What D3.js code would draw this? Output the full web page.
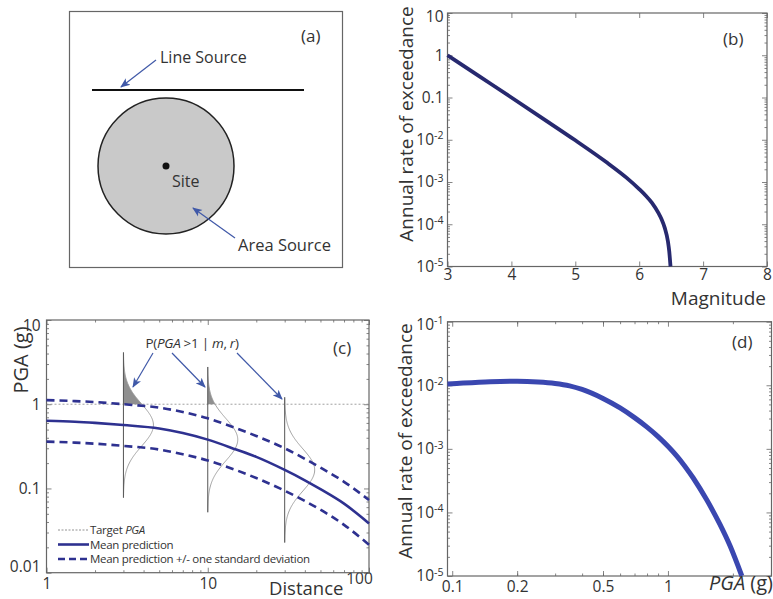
<!DOCTYPE html>
<html>
<head>
<meta charset="utf-8">
<script src="https://cdn.jsdelivr.net/npm/d3@7"></script>
<style>
body { margin: 0; background: #fff; }
text { font-family: "Open Sans", "Noto Sans", sans-serif; fill: #333; }
</style>
</head>
<body>
<svg id="fig" width="773" height="599"></svg>
<script>
// (b) magnitude recurrence
var magnitudes = [3, 3.5, 4, 4.5, 5, 5.5, 5.8, 6, 6.1, 6.2, 6.3, 6.35, 6.4, 6.45, 6.47, 6.49];
var magRates = [1.0, 0.316, 0.1, 0.0313, 0.0097, 0.00285, 0.00127, 0.00068, 0.00048, 0.00032, 0.000185, 0.000131, 0.000082, 0.000039, 0.000023, 0.00001];
var bXTicks = [3, 4, 5, 6, 7, 8];
var bYTicks = [10, 1, 0.1, 1e-2, 1e-3, 1e-4, 1e-5];
var bYLabels = ["10", "1", "0.1", "10^-2", "10^-3", "10^-4", "10^-5"];

// (c) ground motion prediction vs distance
var distKm = [1, 1.5, 2, 3, 5, 7, 10, 15, 20, 30, 40, 50, 70, 100];
var pgaMean = [0.637, 0.62, 0.60, 0.566, 0.515, 0.455, 0.38, 0.29, 0.237, 0.166, 0.125, 0.098, 0.066, 0.0385];
var pgaPlus = [1.12, 1.09, 1.06, 1.0, 0.91, 0.81, 0.68, 0.52, 0.42, 0.30, 0.225, 0.177, 0.12, 0.073];
var pgaMinus = [0.36, 0.35, 0.34, 0.32, 0.29, 0.255, 0.215, 0.165, 0.133, 0.094, 0.071, 0.056, 0.037, 0.0215];
var targetPGA = 1;
var pdfDistances = [3, 10, 30];
var sigmaLog10 = 0.25;
var cXTicks = [1, 10, 100];
var cYTicks = [10, 1, 0.1, 0.01];
var cYLabels = ["10", "1", "0.1", "0.01"];

// (d) hazard curve
var pgaLevels = [0.0951, 0.1, 0.15, 0.2, 0.25, 0.3, 0.35, 0.4, 0.5, 0.6, 0.7, 0.8, 0.9, 1.0, 1.1, 1.2, 1.31, 1.51, 1.74, 1.94, 2.2];
var hazardRate = [0.0105, 0.0106, 0.0114, 0.0116, 0.0113, 0.0107, 0.0098, 0.0086, 0.0062, 0.0044, 0.0031, 0.0022, 0.00156, 0.0011, 0.00077, 0.00053, 0.000348, 0.000159, 0.0000652, 0.0000298, 0.00001];
var dXTicks = [0.1, 0.2, 0.5, 1];
var dXLabels = ["0.1", "0.2", "0.5", "1"];
var dYTicks = [0.1, 1e-2, 1e-3, 1e-4, 1e-5];
var dYLabels = ["10^-1", "10^-2", "10^-3", "10^-4", "10^-5"];

var svg = d3.select("#fig");
var navy = "#27296f", blue = "#2e3190", bright = "#3a47b0", arrowBlue = "#4059a8", frameCol = "#666";

svg.append("defs").append("marker")
    .attr("id", "head")
    .attr("viewBox", "0 0 10 10")
    .attr("refX", 9).attr("refY", 5)
    .attr("markerWidth", 10).attr("markerHeight", 10)
    .attr("markerUnits", "userSpaceOnUse")
    .attr("orient", "auto")
  .append("path")
    .attr("d", "M0,1L10,5L0,9L2.5,5Z")
    .attr("fill", arrowBlue);

function arrow(g, x1, y1, x2, y2) {
  g.append("line")
      .attr("x1", x1).attr("y1", y1).attr("x2", x2).attr("y2", y2)
      .attr("stroke", arrowBlue).attr("stroke-width", 1.2)
      .attr("marker-end", "url(#head)");
}

// labels like "10^-3" become 10 with a superscript
function supText(t, s) {
  t.text(null);
  var parts = s.split("^");
  t.append("tspan").text(parts[0]);
  if (parts[1]) t.append("tspan").attr("dy", "-0.55em").attr("font-size", "0.68em").text(parts[1]);
}

function logMinor(domain) {
  var out = [];
  for (var e = -6; e <= 3; e++) {
    for (var k = 2; k <= 9; k++) {
      var v = k * Math.pow(10, e);
      if (v > domain[0] && v < domain[1]) out.push(v);
    }
  }
  return out;
}

function axes(g, x, y, o) {
  var L = x.range()[0], R = x.range()[1], B = y.range()[0], T = y.range()[1];
  function ax(a, tx, ty, vals, size, pad) {
    var s = g.append("g")
        .attr("transform", "translate(" + tx + "," + ty + ")")
        .call(a.tickValues(vals).tickSize(size).tickPadding(pad || 7).tickFormat(() => ""));
    s.select(".domain").remove();
    s.selectAll(".tick line").attr("stroke", frameCol).attr("stroke-width", 0.8);
    return s;
  }
  if (o.xMinor) {
    ax(d3.axisBottom(x), 0, B, o.xMinor, -2.5);
    ax(d3.axisTop(x), 0, T, o.xMinor, -2.5);
  }
  if (o.yMinor) {
    ax(d3.axisLeft(y), L, 0, o.yMinor, -2.5);
    ax(d3.axisRight(y), R, 0, o.yMinor, -2.5);
  }
  ax(d3.axisTop(x), 0, T, o.xTicks, -5);
  ax(d3.axisRight(y), R, 0, o.yTicks, -5);
  var xb = ax(d3.axisBottom(x), 0, B, o.xTicks, -5, o.xPad || 5);
  var yl = ax(d3.axisLeft(y), L, 0, o.yTicks, -5, o.yPad || 6);
  xb.selectAll(".tick text").each(function(d, i) {
    supText(d3.select(this), o.xLabels[i]);
  }).attr("font-size", 15.5).attr("fill", "#333").attr("font-family", null);
  yl.selectAll(".tick text").each(function(d, i) {
    supText(d3.select(this), o.yLabels[i]);
  }).attr("font-size", 15.5).attr("fill", "#333").attr("font-family", null);
  g.append("rect")
      .attr("x", L).attr("y", T).attr("width", R - L).attr("height", B - T)
      .attr("fill", "none").attr("stroke", frameCol).attr("stroke-width", 1.2);
  return { xb: xb, yl: yl };
}

// ---------------- (a) source sketch ----------------
var pa = svg.append("g");
pa.append("rect").attr("x", 69.5).attr("y", 11.5).attr("width", 273).attr("height", 256)
    .attr("fill", "none").attr("stroke", frameCol).attr("stroke-width", 1.2);
pa.append("line").attr("x1", 92).attr("y1", 90).attr("x2", 304).attr("y2", 90)
    .attr("stroke", "#111").attr("stroke-width", 2);
pa.append("circle").attr("cx", 166).attr("cy", 166).attr("r", 68)
    .attr("fill", "#c9c9c9").attr("stroke", "#222").attr("stroke-width", 1.5);
pa.append("circle").attr("cx", 166).attr("cy", 166).attr("r", 3.5).attr("fill", "#111");
pa.append("text").attr("x", 301).attr("y", 42).attr("font-size", 17).text("(a)");
pa.append("text").attr("x", 160).attr("y", 63).attr("font-size", 16).text("Line Source");
pa.append("text").attr("x", 172).attr("y", 187).attr("font-size", 16).text("Site");
pa.append("text").attr("x", 238).attr("y", 251).attr("font-size", 16.5).text("Area Source");
arrow(pa, 156, 60, 121, 87);
arrow(pa, 235, 238, 193, 208);

// ---------------- (b) magnitude recurrence ----------------
var bx = d3.scaleLinear().domain([3, 8]).range([447.5, 767]);
var by = d3.scaleLog().domain([1e-5, 10]).range([266.5, 13]);
var pb = svg.append("g");
var bAx = axes(pb, bx, by, {
  xTicks: bXTicks, xLabels: bXTicks.map(String), xPad: 2,
  yTicks: bYTicks, yLabels: bYLabels, yMinor: logMinor(by.domain()), yPad: 4
});
bAx.yl.select(".tick text").attr("dy", "0.55em");
pb.append("path")
    .datum(magnitudes.map((m, i) => [m, magRates[i]]))
    .attr("fill", "none").attr("stroke", navy).attr("stroke-width", 3.8)
    .attr("d", d3.line().x(d => bx(d[0])).y(d => by(d[1])).curve(d3.curveMonotoneX));
pb.append("text").attr("x", 723).attr("y", 45).attr("font-size", 17).text("(b)");
pb.append("text").attr("x", 766).attr("y", 305).attr("text-anchor", "end").attr("font-size", 19).text("Magnitude");
pb.append("text").attr("transform", "translate(406,124) rotate(-90)")
    .attr("text-anchor", "middle").attr("dy", "0.35em").attr("font-size", 19).text("Annual rate of exceedance");

// ---------------- (c) attenuation with distance ----------------
var cx = d3.scaleLog().domain([1, 100]).range([46.5, 369]);
var cy = d3.scaleLog().domain([0.01, 10]).range([572.7, 320]);
var pc = svg.append("g");
var cAx = axes(pc, cx, cy, {
  xTicks: cXTicks, xLabels: cXTicks.map(String), xMinor: logMinor(cx.domain()),
  yTicks: cYTicks, yLabels: cYLabels, yMinor: logMinor(cy.domain())
});
cAx.yl.selectAll(".tick text").filter((d, i) => i === 0).attr("dy", "0.7em");
cAx.yl.selectAll(".tick text").filter((d, i) => i === 3).attr("dy", "-0.1em");
cAx.xb.selectAll(".tick text").filter((d, i) => i === 2).attr("dx", "-10").attr("dy", "0.4em");

var cLine = d3.line().x(d => cx(d[0])).y(d => cy(d[1])).curve(d3.curveMonotoneX);

// target level
pc.append("line")
    .attr("x1", cx.range()[0]).attr("x2", cx.range()[1])
    .attr("y1", cy(targetPGA)).attr("y2", cy(targetPGA))
    .attr("stroke", "#888").attr("stroke-width", 0.8).attr("stroke-dasharray", "2,2");

// conditional distributions at selected distances
pdfDistances.forEach(function(r) {
  var mu = Math.log10(pgaMean[distKm.indexOf(r)]);
  var x0 = cx(r), amp = 30, zMax = 3.45;
  var zs = d3.range(-zMax, zMax + 0.001, 0.05);
  var pts = zs.map(z => [x0 + amp * Math.exp(-z * z / 2), cy(Math.pow(10, mu + z * sigmaLog10))]);
  var zT = (Math.log10(targetPGA) - mu) / sigmaLog10;
  var shade = zs.filter(z => z >= zT).map(z => [x0 + amp * Math.exp(-z * z / 2), cy(Math.pow(10, mu + z * sigmaLog10))]);
  if (shade.length) {
    var poly = [[x0, cy(targetPGA)], [x0 + amp * Math.exp(-zT * zT / 2), cy(targetPGA)]].concat(shade, [[x0, shade[shade.length - 1][1]]]);
    pc.append("path").attr("d", "M" + poly.join("L") + "Z").attr("fill", "#8f8f8f");
  }
  pc.append("path").attr("d", d3.line()(pts)).attr("fill", "none").attr("stroke", "#999").attr("stroke-width", 0.9);
  pc.append("line")
      .attr("x1", x0).attr("x2", x0)
      .attr("y1", cy(Math.pow(10, mu - zMax * sigmaLog10))).attr("y2", cy(Math.pow(10, mu + zMax * sigmaLog10)))
      .attr("stroke", "#555").attr("stroke-width", 1);
});

pc.append("path").datum(distKm.map((d, i) => [d, pgaPlus[i]]))
    .attr("fill", "none").attr("stroke", blue).attr("stroke-width", 2.6).attr("stroke-dasharray", "8,5")
    .attr("d", cLine);
pc.append("path").datum(distKm.map((d, i) => [d, pgaMinus[i]]))
    .attr("fill", "none").attr("stroke", blue).attr("stroke-width", 2.6).attr("stroke-dasharray", "8,5")
    .attr("d", cLine);
pc.append("path").datum(distKm.map((d, i) => [d, pgaMean[i]]))
    .attr("fill", "none").attr("stroke", blue).attr("stroke-width", 2.6)
    .attr("d", cLine);

var pLab = pc.append("text").attr("x", 192).attr("y", 348).attr("text-anchor", "middle")
    .attr("font-size", 13.5).attr("letter-spacing", "-0.3");
pLab.append("tspan").text("P(");
pLab.append("tspan").attr("font-style", "italic").text("PGA");
pLab.append("tspan").text(" >1 | ");
pLab.append("tspan").attr("font-style", "italic").text("m");
pLab.append("tspan").text(", ");
pLab.append("tspan").attr("font-style", "italic").text("r");
pLab.append("tspan").text(")");
arrow(pc, 153, 353, 133, 387);
arrow(pc, 172, 353, 205, 387);
arrow(pc, 237, 353, 282, 399);

pc.append("text").attr("x", 333).attr("y", 354).attr("font-size", 17).text("(c)");
pc.append("text").attr("x", 269).attr("y", 595).attr("font-size", 18.5).text("Distance");
pc.append("text").attr("transform", "translate(21,360) rotate(-90)")
    .attr("text-anchor", "middle").attr("dy", "0.35em").attr("font-size", 20).text("PGA (g)");

var leg = pc.append("g");
var legItems = [
  { label: ["Target ", "PGA"], stroke: "#777", width: 0.8, dash: "2,1.5" },
  { label: ["Mean prediction"], stroke: blue, width: 2.6, dash: null },
  { label: ["Mean prediction +/- one standard deviation"], stroke: blue, width: 2.6, dash: "7,4" }
];
legItems.forEach(function(it, i) {
  var yy = 530 + i * 14.5;
  leg.append("line").attr("x1", 58).attr("x2", 89).attr("y1", yy).attr("y2", yy)
      .attr("stroke", it.stroke).attr("stroke-width", it.width).attr("stroke-dasharray", it.dash);
  var t = leg.append("text").attr("x", 90).attr("y", yy).attr("dy", "0.35em")
      .attr("font-size", 11.5).attr("letter-spacing", "-0.3");
  t.append("tspan").text(it.label[0]);
  if (it.label[1]) t.append("tspan").attr("font-style", "italic").text(it.label[1]);
});

// ---------------- (d) hazard curve ----------------
var dx = d3.scaleLog().domain([0.0951, 3.02]).range([447.5, 771.5]);
var dy = d3.scaleLog().domain([1e-5, 0.1]).range([576, 321.7]);
var pd = svg.append("g");
var dAx = axes(pd, dx, dy, {
  xTicks: dXTicks, xLabels: dXLabels, xMinor: logMinor(dx.domain()),
  yTicks: dYTicks, yLabels: dYLabels, yMinor: logMinor(dy.domain()), yPad: 4
});
dAx.yl.select(".tick text").attr("dy", "0.5em");
pd.append("path")
    .datum(pgaLevels.map((p, i) => [p, hazardRate[i]]))
    .attr("fill", "none").attr("stroke", bright).attr("stroke-width", 5)
    .attr("d", d3.line().x(d => dx(d[0])).y(d => dy(d[1])).curve(d3.curveMonotoneX));
pd.append("text").attr("x", 732).attr("y", 348).attr("font-size", 17).text("(d)");
var pgaLab = pd.append("text").attr("x", 773).attr("y", 590).attr("text-anchor", "end").attr("font-size", 20);
pgaLab.append("tspan").attr("font-style", "italic").text("PGA");
pgaLab.append("tspan").text(" (g)");
pd.append("text").attr("transform", "translate(405,441) rotate(-90)")
    .attr("text-anchor", "middle").attr("dy", "0.35em").attr("font-size", 19).text("Annual rate of exceedance");
</script>
</body>
</html>
